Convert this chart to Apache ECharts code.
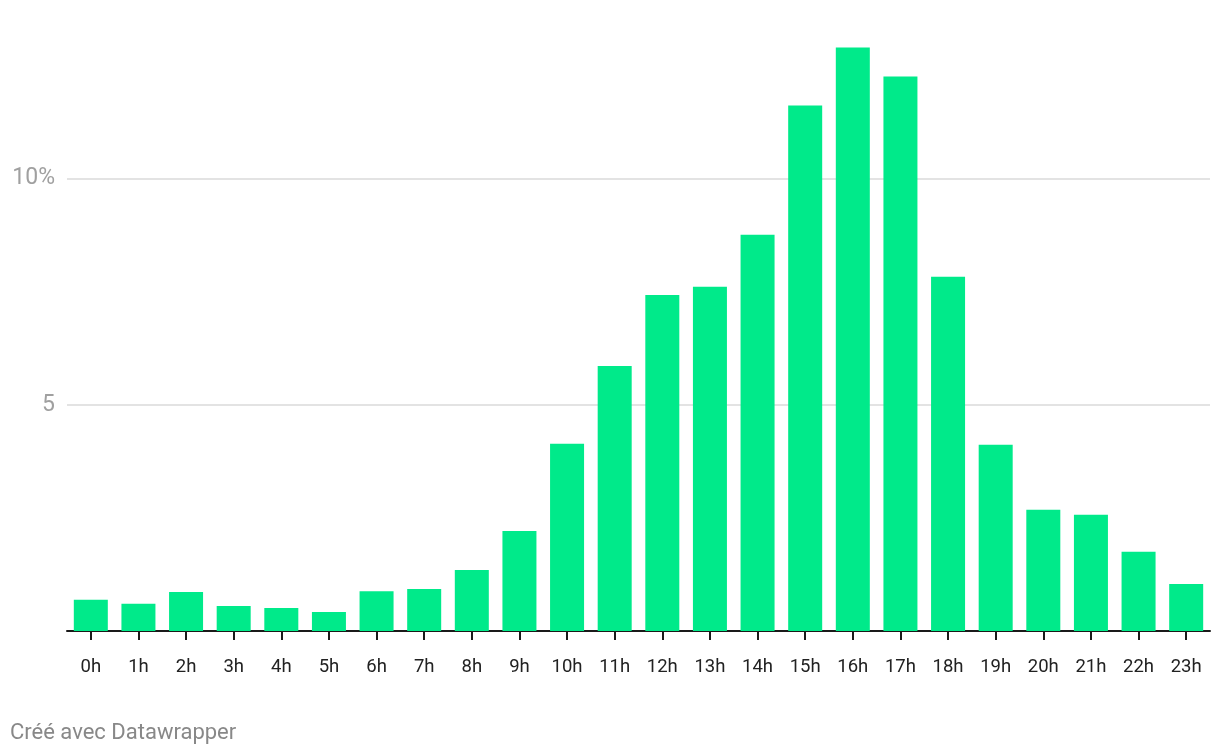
<!DOCTYPE html>
<html>
<head>
<meta charset="utf-8">
<script src="https://cdn.jsdelivr.net/npm/echarts@6/dist/echarts.min.js"></script>
<style>
  html, body { margin: 0; padding: 0; background: #fff; }
  #chart { width: 1220px; height: 756px; }
</style>
</head>
<body>
<div id="chart"></div>
<script>
// heures de la journée
const hours = ["0h", "1h", "2h", "3h", "4h", "5h", "6h", "7h", "8h", "9h", "10h", "11h",
  "12h", "13h", "14h", "15h", "16h", "17h", "18h", "19h", "20h", "21h", "22h", "23h"];
// part (%) par heure
const shares = [0.69, 0.60, 0.86, 0.55, 0.51, 0.42, 0.88, 0.93, 1.35, 2.21, 4.14, 5.86,
  7.43, 7.61, 8.76, 11.62, 12.90, 12.26, 7.83, 4.12, 2.68, 2.57, 1.75, 1.04];
const yTicks = [5, 10];

let chart = echarts.init(document.getElementById("chart"));
chart.setOption({
  animation: false,
  textStyle: { fontFamily: "Roboto" },
  grid: { left: 67, right: 10, top: 43, bottom: 125 },
  graphic: [{
    type: "text",
    left: 10,
    top: 722,
    style: { text: "Créé avec Datawrapper", fill: "#888", font: "22px Roboto" }
  }],
  xAxis: {
    type: "category",
    data: hours,
    axisLine: { lineStyle: { color: "#1a1a1a", width: 2 } },
    axisTick: { show: true, alignWithLabel: true, length: 9, lineStyle: { color: "#1a1a1a", width: 2 } },
    axisLabel: { color: "#222", fontSize: 18.5, margin: 27 }
  },
  yAxis: {
    type: "value",
    min: 0,
    max: 13,
    interval: 5,
    axisLine: { show: false },
    axisTick: { show: false },
    axisLabel: {
      color: "#a0a0a0",
      fontSize: 23,
      margin: 12,
      showMaxLabel: false,
      formatter: function (v) {
        if (v === 10) return "10%";
        return yTicks.indexOf(v) >= 0 ? String(v) : "";
      }
    },
    splitLine: { showMaxLine: false, showMinLine: false, lineStyle: { color: "#e3e3e3", width: 2 } }
  },
  series: [{
    type: "bar",
    data: shares,
    barCategoryGap: "28.6%",
    itemStyle: { color: "#00ea8a" }
  }]
});
</script>
</body>
</html>
